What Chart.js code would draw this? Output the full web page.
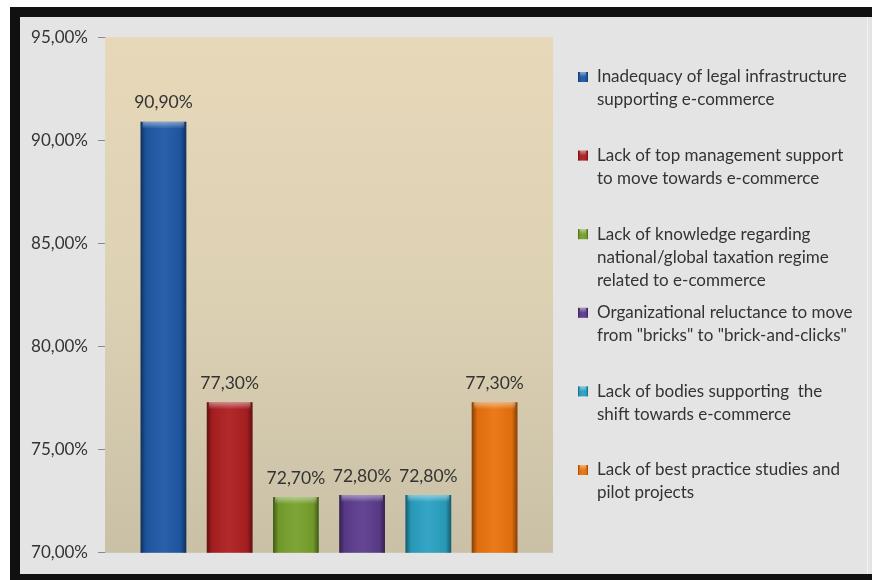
<!DOCTYPE html>
<html>
<head>
<meta charset="utf-8">
<script src="https://cdn.jsdelivr.net/npm/chart.js@4"></script>
<style>
  body { margin: 0; background: #ffffff; }
  #frame {
    position: absolute; left: 10px; top: 7px; width: 862px; height: 573px;
    background: #111111;
  }
  #panel {
    position: absolute; left: 20px; top: 17px; width: 852px; height: 557px;
    background: #e4e4e4;
  }
  #edge {
    position: absolute; left: 867px; top: 17px; width: 1px; height: 557px;
    background: #f3f3f3;
  }
  #wrap { position: absolute; left: 20px; top: 17px; width: 846px; height: 556px; }
</style>
</head>
<body>
<div id="frame"></div>
<div id="panel"></div>
<div id="edge"></div>
<div id="wrap"><canvas id="barChart" width="846" height="556"></canvas></div>
<script>
// survey results: share of respondents citing each barrier
const barriers = [
  ["Inadequacy of legal infrastructure", "supporting e-commerce"],
  ["Lack of top management support", "to move towards e-commerce"],
  ["Lack of knowledge regarding", "national/global taxation regime", "related to e-commerce"],
  ["Organizational reluctance to move", "from \"bricks\" to \"brick-and-clicks\""],
  ["Lack of bodies supporting  the", "shift towards e-commerce"],
  ["Lack of best practice studies and", "pilot projects"]
];
const shares = [90.9, 77.3, 72.7, 72.8, 72.8, 77.3];
const barColors = ["#1f58a6", "#ad1f20", "#76a12c", "#5c3c8e", "#2aa1c2", "#ea730d"];
const yTicks = [70, 75, 80, 85, 90, 95];

const FONT = "Lato, 'Open Sans', sans-serif";
const TEXT = "#333333";

function pct(v) {
  return v.toFixed(2).replace(".", ",") + "%";
}

// beige gradient behind the bars
const plotBackground = {
  id: "plotBackground",
  beforeDatasetsDraw(chart) {
    const { ctx, chartArea: a } = chart;
    const g = ctx.createLinearGradient(0, a.top, 0, a.bottom);
    g.addColorStop(0, "#e7d8b9");
    g.addColorStop(0.5, "#ddd1b4");
    g.addColorStop(1, "#c9c0a6");
    ctx.save();
    ctx.fillStyle = g;
    ctx.fillRect(a.left, a.top, a.right - a.left, a.bottom - a.top);
    ctx.restore();
  }
};

// rounded bevel shading on top of the flat bars
function bevel(ctx, x0, y0, w, h) {
  const side = ctx.createLinearGradient(x0, 0, x0 + w, 0);
  side.addColorStop(0, "rgba(0,0,0,0.45)");
  side.addColorStop(0.12, "rgba(0,0,0,0.06)");
  side.addColorStop(0.5, "rgba(255,255,255,0.05)");
  side.addColorStop(0.88, "rgba(0,0,0,0.06)");
  side.addColorStop(1, "rgba(0,0,0,0.45)");
  ctx.fillStyle = side;
  ctx.fillRect(x0, y0, w, h);
  const capH = Math.min(7, h / 2);
  const cap = ctx.createLinearGradient(0, y0, 0, y0 + capH);
  cap.addColorStop(0, "rgba(255,255,255,0.45)");
  cap.addColorStop(1, "rgba(255,255,255,0)");
  ctx.fillStyle = cap;
  ctx.fillRect(x0 + 2, y0, w - 4, capH);
}

const barShading = {
  id: "barShading",
  afterDatasetsDraw(chart) {
    const ctx = chart.ctx;
    const bottom = chart.chartArea.bottom;
    ctx.save();
    chart.data.datasets.forEach((ds, i) => {
      chart.getDatasetMeta(i).data.forEach((bar) => {
        const { x, y, base, width } = bar.getProps(["x", "y", "base", "width"], true);
        bevel(ctx, x - width / 2, y, width, Math.min(base, bottom) - y);
      });
    });
    ctx.restore();
  }
};

// value labels above each bar
const valueLabels = {
  id: "valueLabels",
  afterDatasetsDraw(chart) {
    const ctx = chart.ctx;
    ctx.save();
    ctx.font = "17.5px " + FONT;
    ctx.fillStyle = TEXT;
    ctx.textAlign = "center";
    ctx.textBaseline = "middle";
    chart.data.datasets.forEach((ds, i) => {
      chart.getDatasetMeta(i).data.forEach((bar, j) => {
        ctx.fillText(pct(ds.data[j]), bar.x, bar.y - 19);
      });
    });
    ctx.restore();
  }
};

// legend on the right with wrapped labels
const sideLegend = {
  id: "sideLegend",
  afterDraw(chart) {
    const ctx = chart.ctx;
    const left = chart.chartArea.right + 25;
    const top = 60;
    const step = 78.6;
    const lineH = 23;
    ctx.save();
    ctx.font = "17px " + FONT;
    ctx.textBaseline = "middle";
    ctx.textAlign = "left";
    chart.data.datasets.forEach((ds, i) => {
      const y = top + i * step;
      ctx.fillStyle = ds.backgroundColor;
      ctx.fillRect(left, y - 5, 10, 10);
      bevel(ctx, left, y - 5, 10, 10);
      ctx.fillStyle = TEXT;
      ds.label.forEach((line, k) => {
        ctx.fillText(line, left + 19, y + k * lineH);
      });
    });
    ctx.restore();
  }
};

const ctx = document.getElementById("barChart").getContext("2d");

new Chart(ctx, {
  type: "bar",
  data: {
    labels: [""],
    datasets: barriers.map((label, i) => ({
      label: label,
      data: [shares[i]],
      backgroundColor: barColors[i],
      borderWidth: 0,
      categoryPercentage: 0.887,
      barPercentage: 0.69
    }))
  },
  options: {
    responsive: false,
    animation: false,
    layout: { padding: { left: 0, top: 20, right: 313, bottom: 20 } },
    plugins: {
      legend: { display: false },
      tooltip: { enabled: false }
    },
    scales: {
      x: { display: false },
      y: {
        min: 70,
        max: 95,
        afterBuildTicks(scale) {
          scale.ticks = yTicks.map((v) => ({ value: v }));
        },
        afterFit(scale) {
          scale.width = 85;
        },
        ticks: {
          callback: (v) => pct(v),
          font: { family: FONT, size: 17 },
          color: TEXT,
          padding: 10
        },
        grid: {
          drawOnChartArea: false,
          drawTicks: true,
          tickLength: 7,
          color: "#8a8a8a"
        },
        border: { display: true, color: "#8a8a8a" }
      }
    }
  },
  plugins: [plotBackground, barShading, valueLabels, sideLegend]
});
</script>
</body>
</html>
